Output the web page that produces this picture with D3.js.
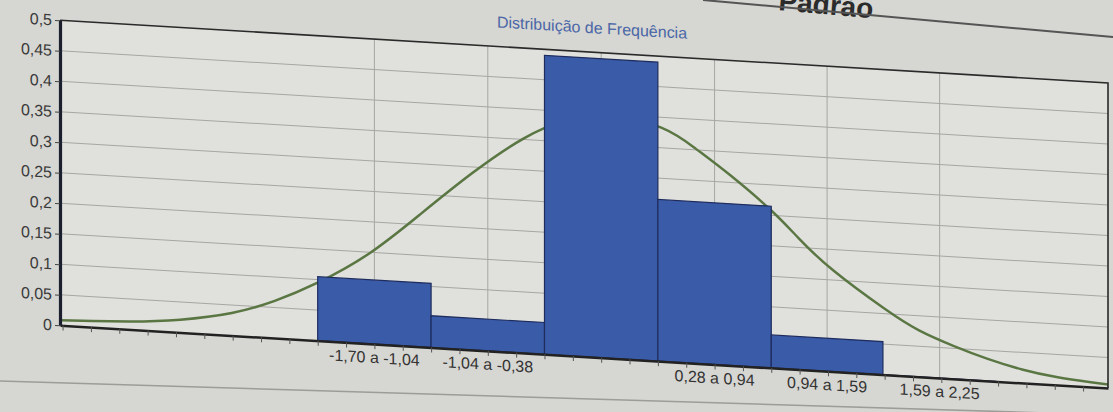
<!DOCTYPE html>
<html>
<head>
<meta charset="utf-8">
<script src="https://cdn.jsdelivr.net/npm/d3@7"></script>
<style>
    html, body { margin: 0; padding: 0; background: #d6d6d2; }
    svg { display: block; font-family: 'Liberation Sans', Arial, sans-serif; }
</style>
</head>
<body>
<svg id="chart" width="1113" height="412"></svg>
<script>
// classes (z scores) and their relative frequency
const binEdges  = [-1.70, -1.04, -0.38, 0.28, 0.94, 1.59, 2.25]
const binLabels = ['-1,70 a -1,04', '-1,04 a -0,38', '', '0,28 a 0,94', '0,94 a 1,59', '1,59 a 2,25']
const binFreq   = [0.105, 0.052, 0.49, 0.265, 0.054, 0]

// normal curve
const curveX = [-3.2, -2.8, -2.5, -2.2, -1.95, -1.7, -1.4, -1.1, -0.8, -0.5, -0.25, 0, 0.3, 0.5, 0.7, 0.94, 1.1, 1.3, 1.6, 1.8, 2.0, 2.2, 2.4, 2.6, 2.8, 2.9]
const curveY = [0.008, 0.013, 0.021, 0.037, 0.061, 0.095, 0.148, 0.218, 0.29, 0.352, 0.386, 0.398, 0.383, 0.352, 0.312, 0.258, 0.215, 0.166, 0.108, 0.076, 0.054, 0.036, 0.022, 0.013, 0.008, 0.006]

const yTicks = [0, 0.05, 0.1, 0.15, 0.2, 0.25, 0.3, 0.35, 0.4, 0.45, 0.5]

const title  = 'Distribuição de Frequência'
const header = 'Padrão'

const svg = d3.select('#chart')

const x = d3.scaleLinear().domain([-3.2, 2.9]).range([60, 1108])
const y = d3.scaleLinear().domain([0, 0.5]).range([357, 52])

const fmt = d3.formatLocale({ decimal: ',', thousands: '.', grouping: [3], currency: ['R$', ''] }).format('~g')

const bins = binFreq.map((v, i) => ({ x0: binEdges[i], x1: binEdges[i + 1], v, label: binLabels[i] }))

// quarter-class tick marks along the bottom axis
const step   = (binEdges[1] - binEdges[0]) / 4
const xTicks = d3.range(-10, 40).map(i => binEdges[0] + i * step).filter(t => t >= x.domain()[0] && t <= x.domain()[1])

// page bits that show at the edges of the photo
svg.append('text')
    .attr('x', 778)
    .attr('y', 10)
    .attr('transform', 'rotate(5, 778, 10)')
    .attr('fill', '#2b2b2b')
    .style('font-size', '28px')
    .style('font-weight', 'bold')
    .text(header)

svg.append('line')
    .attr('x1', 703).attr('y1', 0)
    .attr('x2', 1113).attr('y2', 37)
    .attr('stroke', '#555')
    .attr('stroke-width', 2)

svg.append('line')
    .attr('x1', 0).attr('y1', 381)
    .attr('x2', 1113).attr('y2', 415)
    .attr('stroke', '#9c9c98')
    .attr('stroke-width', 1.5)

// the page is photographed at a slant
const g = svg.append('g')
    .attr('transform', 'translate(590,0) skewY(3.43) translate(-590,0)')

g.append('rect')
    .attr('x', 60)
    .attr('y', y(0.5))
    .attr('width', x.range()[1] - 60)
    .attr('height', y(0) - y(0.5))
    .attr('fill', '#e0e0dc')

g.append('g')
    .selectAll('line')
    .data(yTicks.filter(d => d > 0 && d < 0.5))
    .join('line')
    .attr('x1', x.range()[0])
    .attr('x2', x.range()[1])
    .attr('y1', d => y(d))
    .attr('y2', d => y(d))
    .attr('stroke', '#a6a6a2')
    .attr('stroke-width', 1)

g.append('g')
    .selectAll('line')
    .data(bins)
    .join('line')
    .attr('x1', d => x((d.x0 + d.x1) / 2))
    .attr('x2', d => x((d.x0 + d.x1) / 2))
    .attr('y1', y(0))
    .attr('y2', y(0.5))
    .attr('stroke', '#a6a6a2')
    .attr('stroke-width', 1)

const line = d3.line()
    .x(d => x(d[0]))
    .y(d => y(d[1]))
    .curve(d3.curveNatural)

g.append('path')
    .datum(d3.zip(curveX, curveY))
    .attr('d', line)
    .attr('fill', 'none')
    .attr('stroke', '#5a7643')
    .attr('stroke-width', 2.5)

g.append('g')
    .selectAll('path')
    .data(bins)
    .join('path')
    .attr('d', d => `M${x(d.x0)},${y(0)}V${y(d.v)}H${x(d.x1)}V${y(0)}Z`)
    .attr('fill', '#3a5ba8')
    .attr('stroke', '#1e2c5e')
    .attr('stroke-width', 1.2)

// plot frame, top and right
g.append('path')
    .attr('d', `M${x.range()[0]},${y(0.5)}H${x.range()[1]}V${y(0)}`)
    .attr('fill', 'none')
    .attr('stroke', '#2a2a2a')
    .attr('stroke-width', 1.6)

const xAxis = g.append('g')
    .attr('transform', `translate(0,${y(0)})`)
    .call(d3.axisBottom(x).tickValues(xTicks).tickSize(5).tickSizeOuter(0).tickFormat(''))

xAxis.select('.domain').attr('stroke', '#222').attr('stroke-width', 2.5)
xAxis.selectAll('.tick line').attr('stroke', '#555')

g.append('g')
    .selectAll('text')
    .data(bins.filter(d => d.label))
    .join('text')
    .attr('x', d => x((d.x0 + d.x1) / 2))
    .attr('y', y(0) + 19)
    .attr('text-anchor', 'middle')
    .attr('fill', '#333')
    .style('font-size', '16px')
    .text(d => d.label)

const yAxis = g.append('g')
    .attr('transform', `translate(${x.range()[0]},0)`)
    .call(d3.axisLeft(y).tickValues(yTicks).tickSize(5).tickSizeOuter(0).tickPadding(3).tickFormat(fmt))

yAxis.select('.domain').attr('stroke', '#1c1f2e').attr('stroke-width', 3.2)
yAxis.selectAll('.tick line').attr('stroke', '#444')
yAxis.selectAll('.tick text')
    .attr('fill', '#3a3a3a')
    .style('font-size', '16px')
    .style('font-family', "'Liberation Sans', Arial, sans-serif")

g.append('text')
    .attr('x', 592)
    .attr('y', 33)
    .attr('text-anchor', 'middle')
    .attr('fill', '#4a66a6')
    .style('font-size', '16px')
    .text(title)
</script>
</body>
</html>
